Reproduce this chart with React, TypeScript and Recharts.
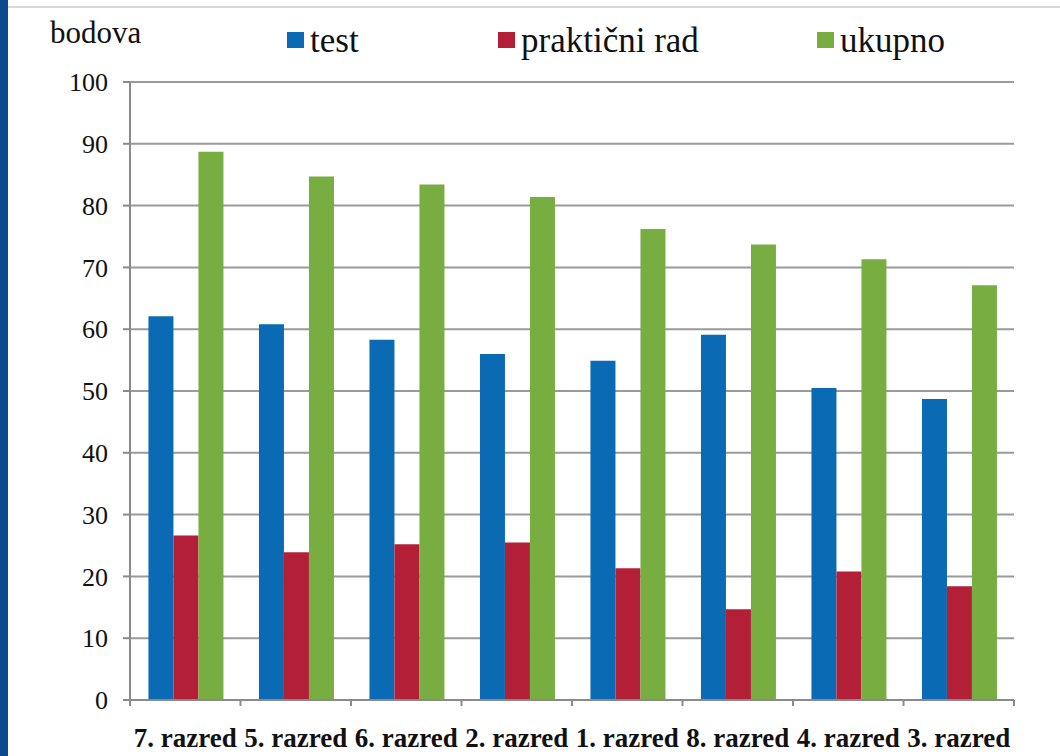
import React from 'react';
import { BarChart, Bar, XAxis, YAxis, CartesianGrid } from 'recharts';

const categories = ['7. razred', '5. razred', '6. razred', '2. razred', '1. razred', '8. razred', '4. razred', '3. razred'];
const testValues = [62.1, 60.8, 58.3, 56.0, 54.9, 59.1, 50.5, 48.7];
const practicalValues = [26.6, 23.9, 25.2, 25.5, 21.3, 14.7, 20.8, 18.4];
const totalValues = [88.7, 84.7, 83.4, 81.4, 76.2, 73.7, 71.3, 67.1];
const yTicks = [0, 10, 20, 30, 40, 50, 60, 70, 80, 90, 100];

const seriesNames = ['test', 'praktični rad', 'ukupno'];
const seriesColors = ['#0a6ab4', '#b41f38', '#78ad41'];
const yLabel = 'bodova';

const data = categories.map((c, i) => ({
  name: c,
  test: testValues[i],
  prakticni: practicalValues[i],
  ukupno: totalValues[i],
}));

const FONT = "'Liberation Serif', 'Times New Roman', serif";
const AXIS_COLOR = '#8a8a8a';
const TICK_SIZE = 6;
const TICK_MARGIN = 22;

const legendLefts = [287, 498, 817];

const CategoryTick = (props: any) => {
  const { x, y, payload, index, visibleTicksCount, width } = props;
  const half = payload && typeof payload.offset === 'number' && payload.offset > 0
    ? payload.offset
    : width / (visibleTicksCount || categories.length) / 2;
  const axisY = y - TICK_SIZE - TICK_MARGIN;
  const last = index === (visibleTicksCount || categories.length) - 1;
  return (
    <g>
      <line x1={x - half} x2={x - half} y1={axisY} y2={axisY + TICK_SIZE} stroke={AXIS_COLOR} strokeWidth={2} />
      {last && <line x1={x + half} x2={x + half} y1={axisY} y2={axisY + TICK_SIZE} stroke={AXIS_COLOR} strokeWidth={2} />}
      <text x={x} y={y} dy="0.71em" textAnchor="middle" fill="#111" fontSize={27} fontWeight="bold" fontFamily={FONT}>
        {payload.value}
      </text>
    </g>
  );
};

export default function App() {
  return (
    <div style={{ position: 'absolute', left: 0, top: 0, width: 1060, height: 756, background: '#fff', overflow: 'hidden', fontFamily: FONT }}>
      <div style={{ position: 'absolute', left: 0, top: 0, width: 8, height: 756, background: '#0b4a8e' }} />
      <div style={{ position: 'absolute', left: 8, top: 6, width: 1052, height: 2, background: '#d8d8d8' }} />
      <BarChart
        width={1060}
        height={756}
        data={data}
        margin={{ top: 82, right: 46, left: 70, bottom: 0 }}
        barCategoryGap="16.7%"
        barGap={0}
        style={{ fontFamily: FONT, position: 'absolute', left: 0, top: 0 }}
      >
        <CartesianGrid vertical={false} stroke="#9a9a9a" strokeWidth={2} />
        <XAxis
          dataKey="name"
          height={56}
          axisLine={{ stroke: AXIS_COLOR, strokeWidth: 2 }}
          tickLine={false}
          tickSize={TICK_SIZE}
          tickMargin={TICK_MARGIN}
          interval={0}
          tick={<CategoryTick />}
        />
        <YAxis
          width={60}
          domain={[0, 100]}
          ticks={yTicks}
          interval={0}
          tickSize={7}
          tickMargin={15}
          stroke={AXIS_COLOR}
          strokeWidth={2}
          tick={{ fill: '#111', fontSize: 26, fontFamily: FONT }}
        />
        <Bar dataKey="test" name={seriesNames[0]} fill={seriesColors[0]} isAnimationActive={false} />
        <Bar dataKey="prakticni" name={seriesNames[1]} fill={seriesColors[1]} isAnimationActive={false} />
        <Bar dataKey="ukupno" name={seriesNames[2]} fill={seriesColors[2]} isAnimationActive={false} />
      </BarChart>
      <svg width={1060} height={70} style={{ position: 'absolute', left: 0, top: 0 }}>
        <text x={50} y={43} fontSize={31} fill="#111" fontFamily={FONT}>{yLabel}</text>
        {seriesNames.map((n, i) => (
          <g key={n}>
            <rect x={legendLefts[i]} y={32} width={17} height={16} fill={seriesColors[i]} />
            <text x={legendLefts[i] + 23} y={52} fontSize={35} fill="#111" fontFamily={FONT}>{n}</text>
          </g>
        ))}
      </svg>
    </div>
  );
}
